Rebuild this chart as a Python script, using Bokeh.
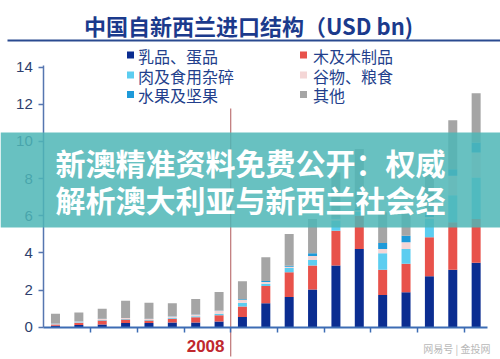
from bokeh.plotting import figure
from bokeh.models import Range1d, FixedTicker, Label, BoxAnnotation, ColumnDataSource
from bokeh.core.properties import value
from bokeh.embed import file_html
from bokeh.resources import INLINE

# ---- data (USD bn), 2001-2019 ----
years = list(range(2001, 2020))
dairy = [0.08, 0.12, 0.14, 0.22, 0.22, 0.25, 0.25, 0.31, 0.55, 1.29, 1.63, 2.03, 3.32, 4.21, 1.74, 1.88, 2.74, 3.09, 3.47]
wood  = [0.06, 0.12, 0.22, 0.19, 0.14, 0.20, 0.29, 0.34, 0.57, 0.93, 1.33, 1.29, 1.88, 1.79, 1.35, 1.53, 2.10, 2.56, 2.36]
meat  = [0.02, 0.03, 0.03, 0.03, 0.03, 0.05, 0.05, 0.08, 0.20, 0.12, 0.23, 0.30, 0.55, 0.20, 0.89, 0.80, 1.00, 1.45, 2.23]
grain = [0.03, 0.04, 0.05, 0.05, 0.05, 0.08, 0.08, 0.15, 0.15, 0.10, 0.07, 0.22, 0.10, 0.10, 0.23, 0.36, 0.10, 1.05, 1.35]
fruit = [0.01, 0.01, 0.01, 0.01, 0.01, 0.01, 0.02, 0.02, 0.03, 0.05, 0.05, 0.14, 0.06, 0.10, 0.33, 0.36, 0.10, 0.35, 0.54]
other = [0.52, 0.47, 0.54, 0.92, 0.86, 0.70, 0.83, 1.00, 0.97, 1.27, 1.71, 1.85, 2.42, 3.19, 1.64, 1.20, 2.21, 2.65, 2.65]

series_keys = ["dairy", "wood", "meat", "grain", "fruit", "other"]
series_names = ["乳品、蛋品", "木及木制品", "肉及食用杂碎", "谷物、粮食", "水果及坚果", "其他"]
colors = ["#0b2d91", "#e8524b", "#5ccdf0", "#f4d6d6", "#1e9ad9", "#a5a5a5"]
y_ticks = [0, 2, 4, 6, 8, 10, 12, 14]
x_ticks = [2.5, 4.5, 6.5, 8.5, 10.5, 12.5, 14.5, 16.5, 18.5]
marker_year = 2008

title_text = "中国自新西兰进口结构（USD bn)"
overlay_lines = ["新澳精准资料免费公开：权威", "解析澳大利亚与新西兰社会经"]
watermark = "网易号 | 金投网"

# ---- pixel -> data helpers (figure pixels == picture pixels) ----
def dx(px):
    return 0.5 + (px - 43.3) / 23.37

def dy(py):
    return (326.7 - py) / 18.571

W, H = 500, 359
p = figure(width=W, height=H,
           x_range=Range1d(dx(0), dx(W)),
           y_range=Range1d(dy(H), dy(0)),
           output_backend="svg", toolbar_location=None,
           min_border=0, min_border_left=0, min_border_right=0,
           min_border_top=0, min_border_bottom=0)
p.outline_line_color = None
p.background_fill_color = "white"
p.border_fill_color = "white"
p.grid.visible = False

xs = [y - years[0] + 1 for y in years]
src = ColumnDataSource(dict(x=xs, dairy=dairy, wood=wood, meat=meat,
                            grain=grain, fruit=fruit, other=other))

# 2008 divider line
xm = marker_year - years[0] + 1.5
p.segment(x0=[xm], y0=[dy(356)], x1=[xm], y1=[dy(108)],
          line_color="#b0585a", line_width=1)

p.vbar_stack(series_keys, x="x", width=0.385, fill_color=colors,
             line_color=None, source=src)

# axes
xa = p.xaxis[0]
ya = p.yaxis[0]
xa.fixed_location = 0
ya.fixed_location = 0.5
xa.bounds = (0.5, 19.5)
ya.bounds = (0, 14.1)
xa.ticker = FixedTicker(ticks=x_ticks)
ya.ticker = FixedTicker(ticks=y_ticks)
xa.major_label_overrides = {t: "" for t in x_ticks}
xa.axis_line_color = "#3c6cb4"
xa.axis_line_width = 2
xa.major_tick_line_color = "#3c6cb4"
xa.major_tick_line_width = 1.5
xa.major_tick_out = 5
xa.major_tick_in = 0
xa.minor_tick_line_color = None
ya.axis_line_color = "#5676b0"
ya.axis_line_width = 1.5
ya.major_tick_line_color = "#5676b0"
ya.major_tick_line_width = 1.5
ya.major_tick_out = 5
ya.major_tick_in = 0
ya.minor_tick_line_color = None
ya.major_label_text_font = "Liberation Sans"
ya.major_label_text_font_size = "15px"
ya.major_label_text_color = "#2e3f6e"
ya.major_label_standoff = 6

# title and rule
p.add_layout(Label(x=dx(248), y=dy(24), text=title_text, text_align="center",
                   text_baseline="middle", text_font="Noto Sans CJK SC",
                   text_font_style="bold", text_font_size="22px",
                   text_color="#1b3a8c"))
p.segment(x0=[dx(7)], y0=[dy(40)], x1=[dx(500)], y1=[dy(40)],
          line_color="#2a4a90", line_width=2)

# legend (manual, 2 columns)
col_sq = [130, 303]
col_tx = [137.5, 312.5]
row_y = [54.5, 74.5, 94]
for i, (name, c) in enumerate(zip(series_names, colors)):
    col = i % 2
    row = i // 2
    p.scatter(x=[dx(col_sq[col])], y=[dy(row_y[row])], marker="square",
              size=7, fill_color=c, line_color=None)
    p.add_layout(Label(x=dx(col_tx[col]), y=dy(row_y[row] + 0.5), text=name,
                       text_align="left", text_baseline="middle",
                       text_font="Noto Sans CJK SC", text_font_size="16px",
                       text_color="#233f8c"))

# year marker
p.add_layout(Label(x=dx(224), y=dy(345), text=str(marker_year),
                   text_align="right", text_baseline="middle",
                   text_font="Liberation Sans", text_font_style="bold",
                   text_font_size="17px", text_color="#c0282e"))

# watermark
p.add_layout(Label(x=dx(490), y=dy(348), text=watermark, text_align="right",
                   text_baseline="middle", text_font="Noto Sans CJK SC",
                   text_font_size="10px", text_color="#b8b8b8"))

# overlay band + headline
p.add_layout(BoxAnnotation(bottom=dy(227), top=dy(132), fill_color="#4db6b6",
                           fill_alpha=0.85, line_color=None))
for line, yc in zip(overlay_lines, [161, 198]):
    p.add_layout(Label(x=dx(55), y=dy(yc), text=line, text_align="left",
                       text_baseline="middle", text_font="Noto Sans CJK SC",
                       text_font_style="bold", text_font_size="30px",
                       text_color="white", level="overlay"))

open("out.html", "w").write(file_html(p, INLINE))
